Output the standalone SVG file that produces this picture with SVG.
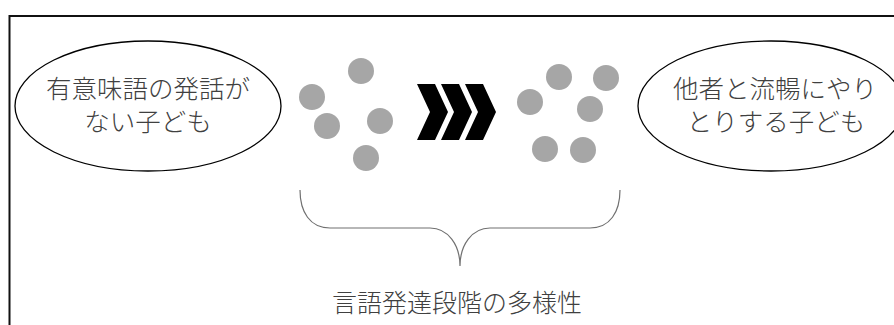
<svg xmlns="http://www.w3.org/2000/svg" width="894" height="325" viewBox="0 0 894 325">
<style>
.lbl{font-family:"Noto Sans CJK JP","Noto Sans CJK SC",sans-serif;font-weight:300;fill:#404040;text-anchor:middle}
.ell{fill:#fff;stroke:#000;stroke-width:1.3}
.dot{fill:#a6a6a6}
.chev{fill:#000}
</style>
<rect width="894" height="325" fill="#fff"/>
<path d="M9.5,325 V16 H894" fill="none" stroke="#111" stroke-width="2"/>
<g id="node-left">
<ellipse class="ell" cx="148" cy="106" rx="133" ry="65"/>
<text class="lbl" x="148" y="98" font-size="25.5">有意味語の発話が</text>
<text class="lbl" x="148" y="131" font-size="25.5">ない子ども</text>
</g>
<g id="node-right">
<ellipse class="ell" cx="771" cy="106" rx="133" ry="65"/>
<text class="lbl" x="775" y="98" font-size="25.5">他者と流暢にやり</text>
<text class="lbl" x="776" y="131" font-size="25.5">とりする子ども</text>
</g>
<g id="dots-before">
<circle class="dot" cx="361" cy="71" r="13"/>
<circle class="dot" cx="312" cy="97" r="13"/>
<circle class="dot" cx="327" cy="126" r="13"/>
<circle class="dot" cx="380" cy="121" r="13"/>
<circle class="dot" cx="366" cy="158" r="13"/>
</g>
<g id="dots-after">
<circle class="dot" cx="559" cy="77" r="13"/>
<circle class="dot" cx="606" cy="78" r="13"/>
<circle class="dot" cx="530" cy="102" r="13"/>
<circle class="dot" cx="590" cy="109" r="13"/>
<circle class="dot" cx="545" cy="149" r="13"/>
<circle class="dot" cx="583" cy="150" r="13"/>
</g>
<g id="connectors">
<polygon class="chev" points="417,84 435,84 448,112 435,140 417,140 430,112"/>
<polygon class="chev" points="441,84 459,84 472,112 459,140 441,140 454,112"/>
<polygon class="chev" points="465,84 483,84 496,112 483,140 465,140 478,112"/>
<path d="M300,190 C300,212 310,228 330,228 H430 C448,228 460,245 460,266 C460,245 472,228 490,228 H590 C610,228 620,212 620,190" fill="none" stroke="#707070" stroke-width="1.2"/>
</g>
<g id="label-bottom">
<text class="lbl" x="457" y="312" font-size="25">言語発達段階の多様性</text>
</g>
</svg>
